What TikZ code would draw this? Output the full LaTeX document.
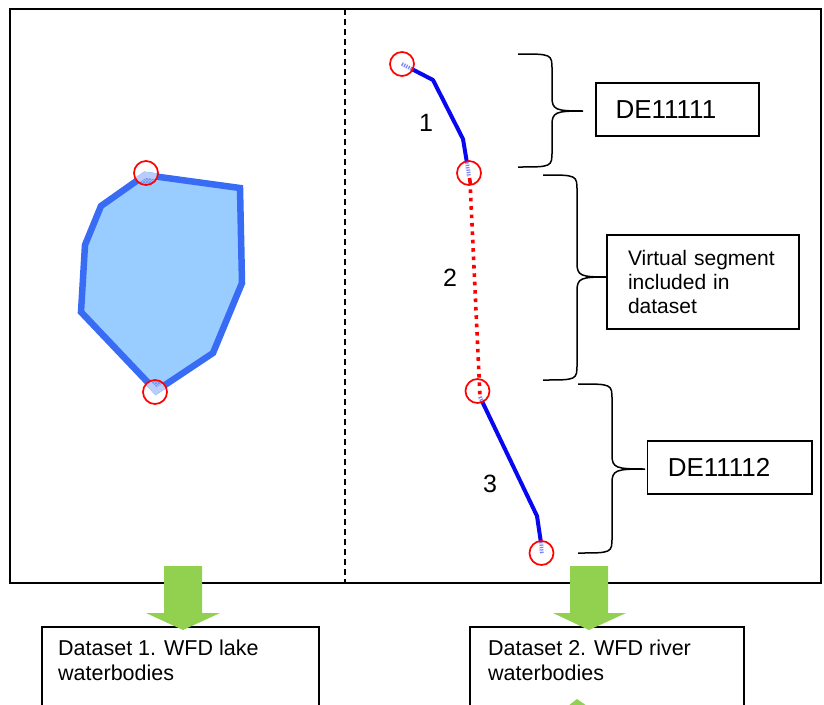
\documentclass[tikz,border=0pt]{standalone}
\usepackage{fontspec}
\setmainfont{Liberation Sans}
\usetikzlibrary{patterns,calc}

\definecolor{lakeline}{RGB}{56,108,245}
\definecolor{lakefill}{RGB}{153,204,255}
\definecolor{lakesel}{RGB}{178,206,250}
\definecolor{riverblue}{RGB}{8,8,240}
\definecolor{riversel}{RGB}{120,130,245}
\definecolor{marker}{RGB}{255,0,0}
\definecolor{flowgreen}{RGB}{146,208,80}

\tikzset{
  frameline/.style={line width=1.9pt, draw=black},
  divider/.style={line width=1.8pt, dash pattern=on 6pt off 4pt},
  lakeedge/.style={line width=6.5pt, draw=lakeline, fill=lakefill, line join=miter},
  river/.style={line width=4pt, draw=riverblue, line join=round},
  virtual/.style={line width=3.6pt, draw=marker, dash pattern=on 3.6pt off 4.8pt},
  endmark/.style={circle, draw=marker, line width=1.7pt, minimum size=24pt, inner sep=0pt},
  labelbox/.style={draw, line width=1.5pt, inner ysep=0pt, align=left},
  bracket/.style={line width=1.5pt, draw=black},
  greenarrow/.style={fill=flowgreen, draw=none},
  numlabel/.style={font=\fontsize{25pt}{28pt}\selectfont, inner sep=0pt, anchor=base},
  dsbox/.style={draw, line width=1.5pt, anchor=north west, inner sep=0pt},
  dstext/.style={font=\fontsize{21.5pt}{25pt}\selectfont, inner sep=0pt, anchor=north west, align=left}
}

% curly bracket opening to the right: start x, top y, bottom y, spine x, tip x, tip y
\newcommand{\rbracket}[6]{%
  \draw[bracket] (#1,#2) .. controls (#4,#2) and (#4,#2) .. (#4,#2+16)
    -- (#4,#6-14) .. controls (#4,#6-1) and (#4+4,#6) .. (#5,#6)
    .. controls (#4+4,#6) and (#4,#6+1) .. (#4,#6+14)
    -- (#4,#3-16) .. controls (#4,#3) and (#4,#3) .. (#1,#3);}

\begin{document}
\begin{tikzpicture}[x=1pt,y=-1pt]
\useasboundingbox (0,0) rectangle (824,704);
\clip (0,0) rectangle (824,704);

% outer frame and divider
\draw[frameline] (10,9) rectangle (821,583);
\draw[divider] (345,9) -- (345,583);

% ---- lake waterbody ----
\def\lakepath{(145,175) -- (240,188) -- (242,283) -- (213,353) -- (156,391) -- (81,312) -- (85,245) -- (101,206) -- cycle}
\draw[lakeedge] \lakepath;
\foreach \c in {(146,173),(155,392)}{
  \begin{scope}
    \clip \c circle (12pt);
    \draw[line width=6.5pt, draw=lakesel, fill=lakesel] \lakepath;
    \fill[pattern=crosshatch, pattern color=lakeline!70] \lakepath;
    \draw[line width=5.5pt, pattern=crosshatch, pattern color=lakeline!70, draw=lakeline!35] \lakepath;
  \end{scope}
}
\node[endmark] (lk1) at (146,173) {};
\node[endmark] (lk2) at (155,392) {};

% ---- river waterbodies ----
\def\riverA{(402,64) -- (433,80) -- (463,139) -- (467,163) -- (469,176)}
\def\riverB{(480,397) -- (537,516) -- (541,543) -- (542,553)}
\draw[river] \riverA;
\draw[river] \riverB;
\draw[virtual] (470,181) -- (480,397);
\foreach \c in {(402,64),(469,173),(477.5,391),(541.5,553)}{
  \begin{scope}
    \clip \c circle (11pt);
    \draw[line width=4.5pt, white] \riverA;
    \draw[line width=4.5pt, white] \riverB;
    \draw[line width=3.5pt, riversel, dash pattern=on 1.2pt off 1.2pt] \riverA;
    \draw[line width=3.5pt, riversel, dash pattern=on 1.2pt off 1.2pt] \riverB;
  \end{scope}
}
\draw[virtual] (469.5,178) -- (470,181);
\node[endmark] (rv1) at (402,64) {};
\node[endmark] (rv2) at (469,173) {};
\node[endmark] (rv3) at (477.5,391) {};
\node[endmark] (rv4) at (541.5,553) {};

\node[numlabel] (n1) at (426,131) {1};
\node[numlabel] (n2) at (450,286) {2};
\node[numlabel] (n3) at (490,492) {3};

% ---- brackets and labels ----
\rbracket{518}{54}{167}{552}{583}{111}
\rbracket{543}{175}{380}{577}{607}{277}
\rbracket{578}{384}{553}{612}{645}{469}

\node[labelbox, font=\fontsize{26pt}{30pt}\selectfont, inner xsep=19.5pt,
      text width=124pt, minimum height=53pt] (de1) at (677.5,109.5) {DE11111};
\node[labelbox, font=\fontsize{21pt}{24pt}\selectfont, inner xsep=21pt,
      text width=150pt, minimum height=94pt] (vs) at (703,282) {Virtual segment\\included in\\dataset};
\node[labelbox, font=\fontsize{26pt}{30pt}\selectfont, inner xsep=20.5pt,
      text width=123.5pt, minimum height=53pt] (de2) at (729.5,467.5) {DE11112};

% ---- output datasets ----
\node[dsbox, minimum width=277pt, minimum height=120pt] (ds1) at (41,626) {};
\node[dstext] (ds1t) at ($(ds1.north west)+(17,13.6)$) {Dataset 1. WFD lake\\waterbodies};
\node[dsbox, minimum width=274pt, minimum height=120pt] (ds2) at (469,626) {};
\node[dstext] (ds2t) at ($(ds2.north west)+(19,13.6)$) {Dataset 2. WFD river\\waterbodies};

\fill[greenarrow] (164,566) -- (202,566) -- (202,613) -- (220,613) -- (183,630)
  -- (146,613) -- (164,613) -- cycle;
\fill[greenarrow] (570,566) -- (608,566) -- (608,613) -- (626,613) -- (589,630)
  -- (553,613) -- (570,613) -- cycle;
\fill[greenarrow] (568,706) -- (577,699) -- (587,706) -- cycle;
\end{tikzpicture}
\end{document}
